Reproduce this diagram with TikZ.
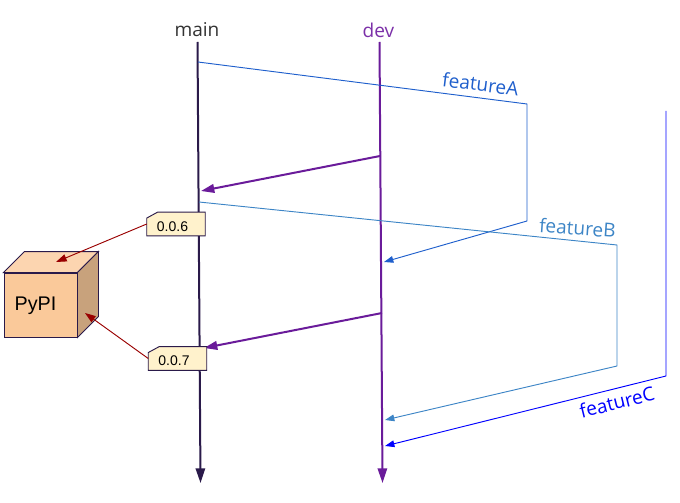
\documentclass[tikz,border=0pt]{standalone}
\usepackage{fontspec}
\setmainfont{Open Sans}
\newfontfamily\tagfont{Liberation Sans}
\usetikzlibrary{arrows.meta, calc}
\definecolor{mainc}{HTML}{2A1A4A}
\definecolor{devc}{HTML}{6A1B9A}
\definecolor{devtext}{HTML}{7B2FA8}
\definecolor{feata}{HTML}{1F5FCC}
\definecolor{featb}{HTML}{3D85C6}
\definecolor{featc}{HTML}{0000FF}
\definecolor{pubc}{HTML}{990000}
\definecolor{tagc}{HTML}{FFF2CC}
\definecolor{cubec}{HTML}{FAC99A}
\definecolor{cubetop}{HTML}{FCD5B0}
\definecolor{cubeside}{HTML}{C8A27C}
\tikzset{
  branch/.style={line width=1.5pt, -{Triangle[length=11pt,width=7pt]}},
  merge/.style={devc, line width=1.5pt, -{Triangle[length=10pt,width=6.5pt]}},
  feature/.style={line width=0.7pt, -{Triangle[length=7pt,width=5pt]}},
  publish/.style={pubc, line width=0.7pt, -{Triangle[length=8pt,width=5.5pt]}},
  tagslot/.style={minimum width=43.5pt, minimum height=17.5pt, inner sep=0pt},
  tagbox/.style={draw=mainc, fill=tagc, line width=0.7pt},
  tagtext/.style={inner sep=0pt, font=\tagfont\fontsize{10.5}{12}\selectfont},
  label/.style={font=\fontsize{14.3}{17}\selectfont},
}
\begin{document}
\begin{tikzpicture}[x=0.75pt, y=-0.75pt]
  \useasboundingbox (0,0) rectangle (680,502);

  \coordinate (mainS) at (197.5,42);
  \coordinate (mainE) at (200.5,483);
  \coordinate (devS) at (379.5,42);
  \coordinate (devE) at (382.5,483);
  \node[label, text=black!80] at (197,30) (mainL) {main};
  \node[label, text=devtext] at (378.5,30) (devL) {dev};
  \draw[branch, mainc] (mainS) -- (mainE);
  \draw[branch, devc] (devS) -- (devE);

  % featureA
  \coordinate (aS) at (198,62);
  \coordinate (a1) at (527,104);
  \coordinate (a2) at (527,221);
  \coordinate (aE) at (384,262);
  \draw[feature, feata] (aS) -- (a1) -- (a2) -- (aE);
  \node[label, text=feata, rotate=-7] at (480.5,84) (aL) {featureA};

  % featureB
  \coordinate (bS) at (199,202);
  \coordinate (b1) at (617,245);
  \coordinate (b2) at (617,366);
  \coordinate (bE) at (385,420);
  \draw[feature, featb] (bS) -- (b1) -- (b2) -- (bE);
  \node[label, text=featb, rotate=-4] at (577.5,228) (bL) {featureB};

  % featureC
  \coordinate (cS) at (666,111);
  \coordinate (c1) at (666,376);
  \coordinate (cE) at (385,446);
  \draw[feature, featc] (cS) -- (c1) -- (cE);
  \node[label, text=featc, rotate=14] at (617,402) (cL) {featureC};

  % dev into main
  \coordinate (m1S) at (380,156);
  \coordinate (m1E) at (201,191);
  \coordinate (m2S) at (382,313);
  \coordinate (m2E) at (204,348);
  \draw[merge] (m1S) -- (m1E);
  \draw[merge] (m2S) -- (m2E);

  % PyPI box
  \node[draw=mainc, fill=cubec, line width=0.7pt, minimum width=54.75pt, minimum height=48pt,
    inner sep=0pt] at (40.5,305) (pypi) {};
  \node[font=\tagfont\fontsize{14.8}{17}\selectfont, text=black] at (35.5,306) (pypiL) {PyPI};
  \coordinate (topL) at ($(pypi.north west)+(21,-21)$);
  \coordinate (topR) at ($(pypi.north east)+(21,-21)$);
  \coordinate (sideB) at ($(pypi.south east)+(21,-21)$);
  \draw[draw=mainc, fill=cubetop, line width=0.7pt]
    (pypi.north west) -- (topL) -- (topR) -- (pypi.north east) -- cycle;
  \draw[draw=mainc, fill=cubeside, line width=0.7pt]
    (pypi.north east) -- (topR) -- (sideB) -- (pypi.south east) -- cycle;

  % version tags
  \node[tagslot] at (176,224) (v6) {};
  \draw[tagbox] ($(v6.north west)+(0,6)$) -- ($(v6.north west)+(11,0)$) -- (v6.north east)
    -- (v6.south east) -- (v6.south west) -- cycle;
  \node[tagtext] at ($(v6.center)+(-3.5,3)$) (v6L) {0.0.6};
  \node[tagslot] at (177.5,358.5) (v7) {};
  \draw[tagbox] ($(v7.north west)+(0,6)$) -- ($(v7.north west)+(11,0)$) -- (v7.north east)
    -- (v7.south east) -- (v7.south west) -- cycle;
  \node[tagtext] at ($(v7.center)+(-3.5,2.5)$) (v7L) {0.0.7};
  \coordinate (p6) at (56,262);
  \coordinate (p7) at (85,313);
  \draw[publish] (v6.west) -- (p6);
  \draw[publish] (v7.west) -- (p7);
\end{tikzpicture}
\end{document}
